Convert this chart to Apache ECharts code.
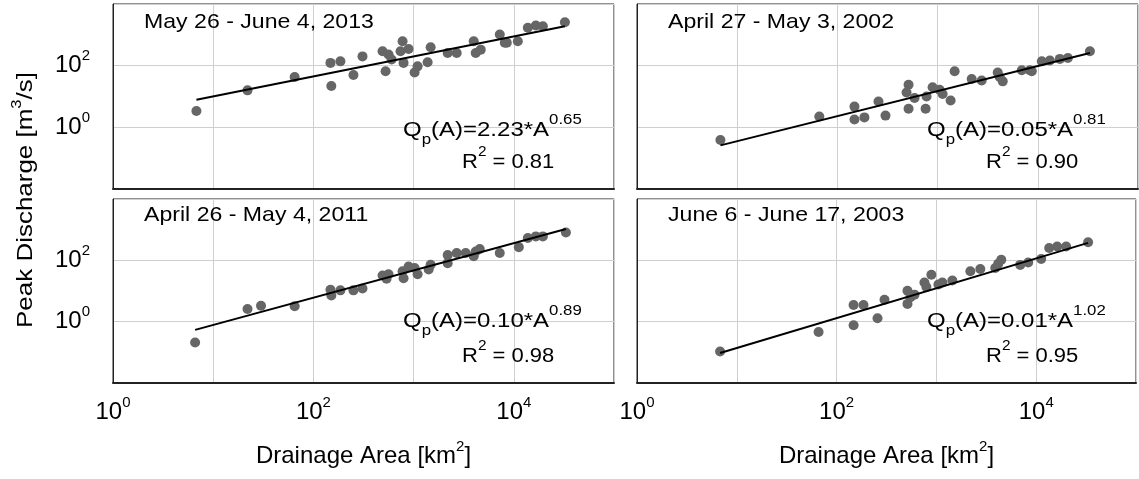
<!DOCTYPE html>
<html>
<head>
<meta charset="utf-8">
<script src="https://cdn.jsdelivr.net/npm/echarts@6.0.0/dist/echarts.min.js"></script>
<style>
  html, body { margin: 0; padding: 0; background: #fff; }
  #chart { width: 1139px; height: 479px; }
</style>
</head>
<body>
<div id="chart"></div>
<script>
// event titles and fit annotations
const titles = ["May 26 - June 4, 2013", "April 27 - May 3, 2002", "April 26 - May 4, 2011", "June 6 - June 17, 2003"];
const coefs = ["2.23", "0.05", "0.10", "0.01"];
const expos = ["0.65", "0.81", "0.89", "1.02"];
const r2 = ["0.81", "0.90", "0.98", "0.95"];

// drainage area [km2] / peak discharge [m3/s]
const area2013 = [6.8, 22, 65, 148, 151, 186, 251, 309, 490, 525, 562, 603, 776, 794, 891, 741, 1023, 1096, 1380, 1479, 2188, 2692, 3981, 4169, 4677, 7244, 8128, 8511, 10965, 13804, 16596, 19498, 32359];
const peak2013 = [3.4, 15.8, 43, 123, 22, 138, 50, 200, 295, 66, 229, 158, 617, 123, 347, 295, 60, 95, 129, 398, 257, 257, 617, 257, 331, 1023, 550, 550, 617, 1698, 1995, 1905, 2570];

const area2002 = [6.8, 66, 148, 148, 186, 257, 302, 513, 490, 513, 589, 759, 776, 891, 1047, 1122, 1349, 1479, 2188, 2754, 3981, 4169, 4467, 6918, 8318, 8710, 10965, 13183, 16596, 19953, 33113];
const peak2002 = [0.39, 2.24, 4.7, 1.8, 2.1, 6.9, 2.4, 24, 13.5, 4.0, 8.9, 4.0, 10, 20, 16.6, 12, 7.4, 66, 37, 33, 60, 43, 31, 71, 71, 66, 138, 148, 166, 178, 295];

const area2011 = [6.6, 22, 30, 65, 148, 151, 186, 251, 309, 490, 562, 537, 776, 794, 891, 1023, 1096, 1413, 1479, 2188, 2188, 2692, 3311, 3981, 4169, 4571, 7244, 11220, 13804, 16596, 19498, 33113];
const peak2011 = [0.21, 2.6, 3.3, 3.2, 11, 7.1, 10.5, 10.5, 12, 32, 35, 25, 44, 26, 63, 56, 35, 50, 72, 81, 148, 174, 174, 135, 195, 234, 174, 269, 537, 603, 603, 813];

const area2003 = [6.8, 66, 148, 148, 186, 257, 302, 513, 513, 550, 603, 759, 794, 891, 1047, 1148, 1445, 2188, 2754, 3890, 4467, 4169, 6918, 8318, 11220, 13490, 16218, 19953, 33113];
const peak2003 = [0.107, 0.46, 0.76, 3.5, 3.5, 1.3, 5.2, 10.2, 3.8, 6.3, 7.6, 19, 13.5, 34, 16.2, 19, 22, 44, 52, 56, 105, 78, 71, 85, 110, 251, 282, 282, 389];

// power-law fit lines, end points as drawn
const fitArea = [[6.8, 32359], [6.8, 33113], [6.6, 33113], [6.8, 33113]];
const fitPeak = [[7.8, 1905], [0.26, 257], [0.54, 1047], [0.095, 372]];

const xTicks = [0, 2, 4];   // labelled exponents on x
const yTicks = [0, 2];      // labelled exponents on y

const areas = [area2013, area2002, area2011, area2003];
const peaks = [peak2013, peak2002, peak2011, peak2003];

const FONT = "'Liberation Sans', Arial, sans-serif";
const panels = [
  { left: 113, top: 4, height: 185 },
  { left: 637, top: 4, height: 185 },
  { left: 113, top: 199, height: 184 },
  { left: 637, top: 199, height: 184 }
];

const powRich = {
  b: { fontSize: 24, lineHeight: 34, fontFamily: FONT, color: '#000' },
  s: { fontSize: 15, lineHeight: 15, fontFamily: FONT, color: '#000', verticalAlign: 'top' }
};

function pow10(v, keep) {
  const e = Math.round(Math.log10(v));
  return keep.indexOf(e) >= 0 ? '{b|10}{s|' + e + '}' : '';
}

const chart = echarts.init(document.getElementById('chart'), null, { renderer: 'canvas' });

const grids = panels.map(p => ({
  left: p.left, top: p.top, width: 501, height: p.height,
  show: true, borderColor: '#222', borderWidth: 1, containLabel: false
}));

const xAxes = panels.map((p, i) => ({
  type: 'log', logBase: 10, gridIndex: i, min: 1, max: 100000, interval: 1,
  axisLine: { show: true, lineStyle: { color: '#222', width: 2 } },
  axisTick: { show: false },
  splitLine: { show: true, lineStyle: { color: '#cfcfcf', width: 1 } },
  axisLabel: {
    show: i >= 2, margin: 12, formatter: v => pow10(v, xTicks), rich: powRich
  },
  name: i >= 2 ? '{b|Drainage Area [km}{s|2}{b|]}' : '',
  nameLocation: 'middle', nameGap: 56,
  nameTextStyle: {
    rich: {
      b: { fontSize: 24, lineHeight: 34, fontFamily: FONT, color: '#000' },
      s: { fontSize: 15, lineHeight: 15, fontFamily: FONT, color: '#000', verticalAlign: 'top' }
    }
  }
}));

const yAxes = panels.map((p, i) => ({
  type: 'log', logBase: 10, gridIndex: i, min: 0.01, max: 10000, interval: 2,
  axisLine: { show: true, lineStyle: { color: '#222', width: 1 } },
  axisTick: { show: false },
  splitLine: { show: true, lineStyle: { color: '#cfcfcf', width: 1 } },
  axisLabel: {
    show: i % 2 === 0, margin: 23, formatter: v => pow10(v, yTicks), rich: powRich
  }
}));

const series = [];
areas.forEach((a, i) => {
  series.push({
    type: 'scatter', xAxisIndex: i, yAxisIndex: i,
    symbolSize: 10, itemStyle: { color: '#666666', opacity: 1 },
    data: a.map((v, k) => [v, peaks[i][k]]), z: 3
  });
  series.push({
    type: 'line', xAxisIndex: i, yAxisIndex: i, showSymbol: false, symbol: 'none',
    lineStyle: { color: '#000', width: 2 },
    data: fitArea[i].map((v, k) => [v, fitPeak[i][k]]), z: 4
  });
});

const eqRich = {
  b: { fontSize: 20, lineHeight: 34, fontFamily: FONT, color: '#000' },
  s: { fontSize: 14, lineHeight: 14, fontFamily: FONT, color: '#000', verticalAlign: 'top' },
  d: { fontSize: 14, lineHeight: 14, fontFamily: FONT, color: '#000', verticalAlign: 'bottom' }
};

const graphic = [];
panels.forEach((p, i) => {
  const row = i < 2 ? 0 : 1;
  graphic.push({
    type: 'text', x: p.left + 31, y: p.top + (row ? 16 : 18), scaleX: 1.1, z: 10,
    style: { text: titles[i], fontSize: 21, fontFamily: FONT, fill: '#000', align: 'left', verticalAlign: 'middle' }
  });
  graphic.push({
    type: 'text', x: p.left + 290, y: p.top + (row ? 122 : 126), scaleX: 1.2, z: 10,
    style: {
      text: '{b|Q}{d|p}{b|(A)=' + coefs[i] + '*A}{s|' + expos[i] + '}',
      rich: eqRich, align: 'left', verticalAlign: 'middle'
    }
  });
  graphic.push({
    type: 'text', x: p.left + 349, y: p.top + (row ? 157 : 158.5), scaleX: 1.1, z: 10,
    style: {
      text: '{b|R}{s|2}{b| = ' + r2[i] + '}',
      rich: eqRich, align: 'left', verticalAlign: 'middle'
    }
  });
});
graphic.push({
  type: 'text', x: 26, y: 200, rotation: Math.PI / 2, scaleX: 1.18, z: 10,
  style: {
    text: '{b|Peak Discharge [m}{s|3}{b|/s]}',
    rich: {
      b: { fontSize: 22, lineHeight: 32, fontFamily: FONT, color: '#000' },
      s: { fontSize: 14, lineHeight: 14, fontFamily: FONT, color: '#000', verticalAlign: 'top' }
    },
    align: 'center', verticalAlign: 'middle'
  }
});

chart.setOption({
  animation: false,
  backgroundColor: '#fff',
  grid: grids,
  xAxis: xAxes,
  yAxis: yAxes,
  series: series,
  graphic: graphic
});
</script>
</body>
</html>
